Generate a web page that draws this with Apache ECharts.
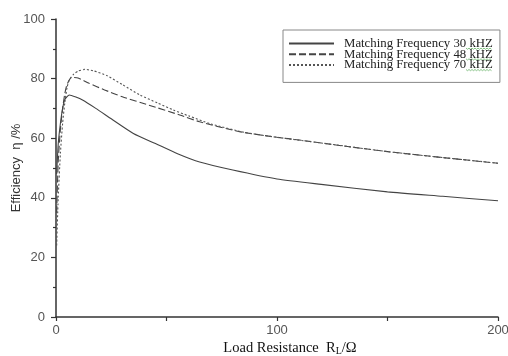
<!DOCTYPE html>
<html>
<head>
<meta charset="utf-8">
<script src="https://cdn.jsdelivr.net/npm/echarts@6/dist/echarts.min.js"></script>
<style>
  html, body { margin: 0; padding: 0; background: #fff; }
  #chart { width: 508px; height: 356px; }
</style>
</head>
<body>
<div id="chart"></div>
<script>
// Load resistance (ohm) and efficiency (%) for each matching frequency
const resistance30 = [0.3, 1, 2, 3, 4, 6, 9, 12, 18, 25, 35, 45, 55, 65, 80, 100, 120, 150, 175, 200];
const efficiency30 = [48, 58, 65, 70, 73, 74.5, 73.8, 72.8, 70, 66.5, 61.6, 58.2, 54.8, 52, 49.3, 46.3, 44.5, 42, 40.5, 39];

const resistance48 = [0.3, 1, 2, 3, 4, 5, 7, 10, 15, 22, 30, 42, 56, 65, 83, 100, 110, 130, 150, 175, 200];
const efficiency48 = [35, 52, 63, 70, 75, 78, 80.4, 80.2, 78.4, 76.2, 73.9, 71.1, 67.8, 65.5, 62.2, 60.3, 59.4, 57.4, 55.5, 53.5, 51.6];

const resistance70 = [0.3, 1, 2, 3, 4, 5, 6, 8, 10, 13, 17, 23, 30, 38, 46, 53, 60, 70, 85, 100, 120, 150, 175, 200];
const efficiency70 = [24, 40, 55, 65, 72, 77, 79.5, 81.5, 82.5, 83.1, 82.6, 81, 78, 74.5, 71.8, 69.5, 67.5, 64.8, 62, 60.3, 58.4, 55.5, 53.5, 51.6];

const seriesNames = ['Matching Frequency 30 kHZ', 'Matching Frequency 48 kHZ', 'Matching Frequency 70 kHZ'];
const xTicks = { min: 0, max: 200, interval: 100 };
const yTicks = { min: 0, max: 100, interval: 20 };

const pairs = (xs, ys) => xs.map((x, i) => [x, ys[i]]);

const axisColor = '#333';
const labelStyle = { color: '#555', fontFamily: 'Liberation Sans', fontSize: 13 };

// Wavy green proof-reading underline beneath each "kHZ" in the legend box
function squiggle(x0, x1, y) {
  const pts = [];
  for (let x = x0, k = 0; x <= x1; x += 1.5, k++) pts.push([x, y + (k % 2 ? 0.8 : -0.4)]);
  return {
    type: 'polyline',
    shape: { points: pts },
    style: { stroke: '#6bb56b', lineWidth: 0.8, fill: null },
    silent: true
  };
}

const chart = echarts.init(document.getElementById('chart'), null, { renderer: 'canvas' });
chart.setOption({
  animation: false,
  backgroundColor: '#fff',
  grid: { left: 56, right: 10, top: 19, bottom: 39, containLabel: false, outerBoundsMode: 'none' },
  legend: {
    orient: 'vertical',
    left: 283,
    top: 30,
    padding: [7, 7, 11, 5],
    itemWidth: 45,
    itemHeight: 8,
    itemGap: -2.3,
    borderColor: '#888',
    borderWidth: 1,
    itemStyle: { opacity: 0 },
    textStyle: {
      fontFamily: 'Liberation Serif',
      fontSize: 12.8,
      color: '#222',
      padding: [0, 0, 0, 5]
    },
    data: seriesNames
  },
  graphic: [
    squiggle(466, 492, 48.5),
    squiggle(466, 492, 59.2),
    squiggle(466, 492, 69.9)
  ],
  xAxis: {
    type: 'value',
    min: xTicks.min,
    max: xTicks.max,
    interval: xTicks.interval,
    name: '{a|Load Resistance  R}{s|L}{a|/Ω}',
    nameLocation: 'middle',
    nameGap: 23,
    nameMoveOverlap: false,
    nameTextStyle: {
      padding: [0, 0, 0, 26],
      rich: {
        a: { fontFamily: 'Liberation Serif', fontSize: 14.5, color: '#111' },
        s: { fontFamily: 'Liberation Serif', fontSize: 10, color: '#111', verticalAlign: 'bottom', padding: [6, 0, 0, 0] }
      }
    },
    axisLine: { lineStyle: { color: axisColor, width: 1.5 } },
    axisTick: { inside: false, length: 4, lineStyle: { color: axisColor, width: 1.2 } },
    minorTick: { show: true, splitNumber: 2, length: 4, lineStyle: { color: axisColor, width: 1.2 } },
    axisLabel: Object.assign({ margin: 7 }, labelStyle),
    splitLine: { show: false }
  },
  yAxis: {
    type: 'value',
    min: yTicks.min,
    max: yTicks.max,
    interval: yTicks.interval,
    name: 'Efficiency  η /%',
    nameLocation: 'middle',
    nameGap: 33,
    nameMoveOverlap: false,
    nameTextStyle: { fontFamily: 'Liberation Sans', fontSize: 13, color: '#333' },
    axisLine: { show: true, lineStyle: { color: axisColor, width: 1.5 } },
    axisTick: { show: true, inside: false, length: 5, lineStyle: { color: axisColor, width: 1.2 } },
    minorTick: { show: true, splitNumber: 2, length: 3, lineStyle: { color: axisColor, width: 1.2 } },
    axisLabel: Object.assign({ margin: 11 }, labelStyle),
    splitLine: { show: false }
  },
  series: [
    {
      name: seriesNames[0],
      type: 'line',
      data: pairs(resistance30, efficiency30),
      showSymbol: false,
      symbol: 'none',
      smooth: 0.2,
      lineStyle: { color: '#444', width: 1.1, type: 'solid' },
      itemStyle: { color: '#444' }
    },
    {
      name: seriesNames[1],
      type: 'line',
      data: pairs(resistance48, efficiency48),
      showSymbol: false,
      symbol: 'none',
      smooth: 0.2,
      lineStyle: { color: '#444', width: 1.1, type: [7, 3] },
      itemStyle: { color: '#444' }
    },
    {
      name: seriesNames[2],
      type: 'line',
      data: pairs(resistance70, efficiency70),
      showSymbol: false,
      symbol: 'none',
      smooth: 0.2,
      lineStyle: { color: '#555', width: 1.1, type: [2, 2] },
      itemStyle: { color: '#555' }
    }
  ]
});
</script>
</body>
</html>
